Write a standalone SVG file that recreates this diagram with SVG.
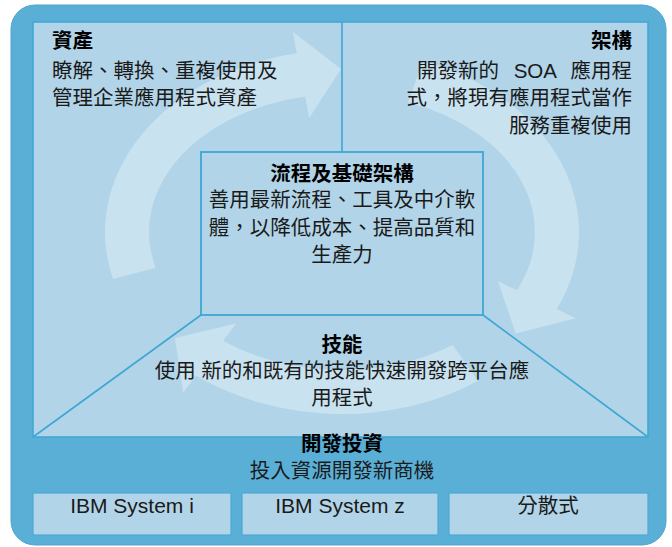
<svg xmlns="http://www.w3.org/2000/svg" width="672" height="547" viewBox="0 0 672 547">
<style>
.t{font-family:"Liberation Sans","Noto Sans CJK TC",sans-serif;font-size:20.5px;fill:#1a1a1a}
.b{font-weight:bold;fill:#000}
.m{text-anchor:middle}
.e{text-anchor:end}
.line{stroke:#3fa6d4;stroke-width:1.6;fill:none}
.arc{fill:#c9e2f0}
.box{fill:#b2d4e8;stroke:#4aa9d5;stroke-width:1.2}
</style>
<rect x="11" y="5" width="655" height="540" rx="24" ry="24" fill="#5aafd7" stroke="#4ea6d0" stroke-width="1"/>
<rect x="33" y="22" width="615" height="415" fill="#b1d4e8" stroke="#44a8d5" stroke-width="1.6"/>
<g id="connectors">
<path class="arc" d="M113.1,279.1 A237,182 0 0 1 296.8,53.3 L292.8,31.8 L341,69 L309.2,118.1 L305.2,96.5 A193,138 0 0 0 155.6,267.7 Z"/>
<path class="arc" d="M423.1,61 A237,182 0 0 1 556.8,308.9 L575.8,318.2 L515.7,333.5 L497.9,281 L516.9,290.3 A193,138 0 0 0 408,102.3 Z"/>
<path class="arc" d="M477.9,381.1 A237,182 0 0 1 196.1,375.4 L183.1,392.8 L175,338 L236.1,323.4 L223.2,340.7 A193,138 0 0 0 452.7,345 Z"/>
<line class="line" x1="342" y1="22" x2="342" y2="152"/>
<line class="line" x1="201" y1="315" x2="33" y2="437"/>
<line class="line" x1="483" y1="315" x2="648" y2="437"/>
</g>
<g id="asset">
<text class="t b" x="52" y="48">資產</text>
<text class="t" x="52" y="78">瞭解、轉換、重複使用及</text>
<text class="t" x="52" y="105">管理企業應用程式資產</text>
</g>
<g id="architecture">
<text class="t b e" x="632" y="48">架構</text>
<text class="t e" x="632" y="78" word-spacing="9">開發新的 SOA 應用程</text>
<text class="t e" x="632" y="105">式，將現有應用程式當作</text>
<text class="t e" x="632" y="133">服務重複使用</text>
</g>
<g id="process">
<rect x="201" y="152" width="282" height="163" fill="#b1d4e8" stroke="#3fa6d4" stroke-width="1.8"/>
<text class="t b m" x="342" y="181">流程及基礎架構</text>
<text class="t m" x="342" y="207">善用最新流程、工具及中介軟</text>
<text class="t m" x="342" y="235">體，以降低成本、提高品質和</text>
<text class="t m" x="342" y="262">生產力</text>
</g>
<g id="skills">
<text class="t b m" x="342" y="352">技能</text>
<text class="t m" x="342" y="378">使用 新的和既有的技能快速開發跨平台應</text>
<text class="t m" x="342" y="405">用程式</text>
</g>
<g id="investment">
<text class="t b m" x="342" y="451">開發投資</text>
<text class="t m" x="342" y="478">投入資源開發新商機</text>
</g>
<g id="sys-i">
<rect class="box" x="33" y="493" width="198" height="42"/>
<text class="t m" x="132" y="513" style="font-size:21px">IBM System i</text>
</g>
<g id="sys-z">
<rect class="box" x="242" y="493" width="196" height="42"/>
<text class="t m" x="340" y="513" style="font-size:21px">IBM System z</text>
</g>
<g id="distributed">
<rect class="box" x="449" y="493" width="199" height="42"/>
<text class="t m" x="548" y="513">分散式</text>
</g>
</svg>
